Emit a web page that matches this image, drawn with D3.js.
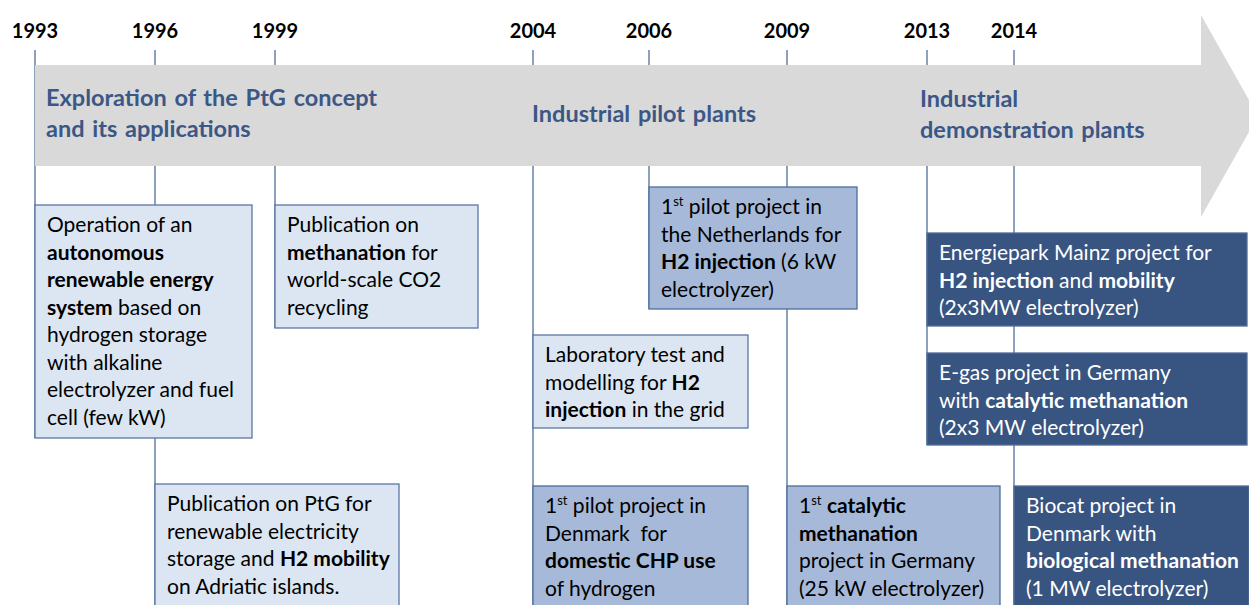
<!DOCTYPE html>
<html lang="en">
<head>
<meta charset="UTF-8">
<title>Power-to-Gas timeline</title>
<script src="https://cdn.jsdelivr.net/npm/d3@7"></script>
<style>
    body{
        margin: 0;
        background: #fff;
        font-family: Lato, "Open Sans", sans-serif;
    }
    svg{ display: block; }
    .year{ font-weight: bold; font-size: 20px; fill: #000; }
    .phase{ font-weight: bold; font-size: 23.5px; fill: #3b5786; word-spacing: 2px; }
    .tick{ stroke: #4f6d9c; stroke-width: 1.3px; }
    .box text{ font-size: 21px; }
</style>
</head>
<body>
<script>
// years on the timeline
const years = [1993, 1996, 1999, 2004, 2006, 2009, 2013, 2014];
// phases shown inside the arrow
const phases = [
    {year: 1993, lines: ["Exploration of the PtG concept", "and its applications"]},
    {year: 2004, lines: ["Industrial pilot plants"]},
    {year: 2013, lines: ["Industrial", "demonstration plants"]}
];
// events (** marks bold, ^ marks superscript)
const events = [
    {year: 1993, kind: "light", lines: ["Operation of an", "**autonomous**", "**renewable energy**", "**system** based on", "hydrogen storage", "with alkaline", "electrolyzer and fuel", "cell (few kW)"]},
    {year: 1999, kind: "light", lines: ["Publication on", "**methanation** for", "world-scale CO2", "recycling"]},
    {year: 1996, kind: "light", lines: ["Publication on PtG for", "renewable electricity", "storage and **H2 mobility**", "on Adriatic islands."]},
    {year: 2004, kind: "light", lines: ["Laboratory test and", "modelling for **H2**", "**injection** in the grid"]},
    {year: 2006, kind: "mid", lines: ["1^st^ pilot project in", "the Netherlands for", "**H2 injection** (6 kW", "electrolyzer)"]},
    {year: 2004, kind: "mid", lines: ["1^st^ pilot project in", "Denmark  for", "**domestic CHP use**", "of hydrogen"]},
    {year: 2009, kind: "mid", lines: ["1^st^ **catalytic**", "**methanation**", "project in Germany", "(25 kW electrolyzer)"]},
    {year: 2013, kind: "dark", lines: ["Energiepark Mainz project for", "**H2 injection** and **mobility**", "(2x3MW electrolyzer)"]},
    {year: 2013, kind: "dark", lines: ["E-gas project in Germany", "with **catalytic methanation**", "(2x3 MW electrolyzer)"]},
    {year: 2014, kind: "dark", lines: ["Biocat project in", "Denmark with", "**biological methanation**", "(1 MW electrolyzer)"]}
];

// layout
const width = 1249, height = 605;
const yearX = [35, 155, 275, 533, 649, 787, 927, 1014];
const boxLayout = [
    {w: 217, top: 205, h: 233},
    {w: 203, top: 205, h: 123},
    {w: 244, top: 484, h: 130},
    {w: 215, top: 335, h: 93},
    {w: 208, top: 187, h: 122},
    {w: 215, top: 486, h: 130},
    {w: 213, top: 486, h: 130},
    {w: 320, top: 233, h: 93},
    {w: 320, top: 353, h: 92},
    {w: 235, top: 486, h: 130}
];
const styles = {
    light: {fill: "#dce6f2", stroke: "#5b76a3", text: "#000"},
    mid:   {fill: "#a6b9d8", stroke: "#4f6d9c", text: "#000"},
    dark:  {fill: "#385480", stroke: "#506c98", text: "#fff"}
};
const arrow = {top: 65, bottom: 166, headX: 1201, headTop: 15, headBottom: 217, tip: 1258};

let x = d3.scaleLinear().domain(years).range(yearX);

let svg = d3.select("body").append("svg")
    .attr("width", width)
    .attr("height", height);

// tick lines, drawn under everything
let lowest = {};
events.forEach((e, i) => {
    let b = boxLayout[i];
    lowest[e.year] = Math.max(lowest[e.year] || 0, b.top + b.h);
});
svg.append("g").selectAll("line")
    .data(years)
    .join("line")
    .attr("class", "tick")
    .attr("x1", d => x(d)).attr("x2", d => x(d))
    .attr("y1", 50)
    .attr("y2", d => Math.min(lowest[d] || arrow.bottom, height));

// the arrow
let cy = (arrow.headTop + arrow.headBottom) / 2;
svg.append("path")
    .attr("fill", "#d9d9d9")
    .attr("d", d3.line()([
        [x(1993), arrow.top], [arrow.headX, arrow.top], [arrow.headX, arrow.headTop],
        [arrow.tip, cy], [arrow.headX, arrow.headBottom], [arrow.headX, arrow.bottom],
        [x(1993), arrow.bottom]
    ]) + "Z");

// year labels
svg.append("g").selectAll("text")
    .data(years)
    .join("text")
    .attr("class", "year")
    .attr("x", d => x(d))
    .attr("y", 38)
    .attr("text-anchor", "middle")
    .text(d => d);

// phase labels
const phaseOffset = [11, -1, -7];
const phaseBase = [106, 122, 107];
phases.forEach((p, i) => {
    let t = svg.append("text").attr("class", "phase");
    p.lines.forEach((l, j) => {
        t.append("tspan")
            .attr("x", x(p.year) + phaseOffset[i])
            .attr("y", phaseBase[i] + j * 31)
            .text(l);
    });
});

// split a line into plain / bold / superscript pieces
function pieces(line){
    let out = [];
    line.split("**").forEach((part, i) => {
        part.split("^").forEach((s, k) => {
            if (s.length) out.push({text: s, bold: i % 2 === 1, sup: k % 2 === 1});
        });
    });
    return out;
}

// event boxes
let boxes = svg.append("g").selectAll("g")
    .data(events)
    .join("g")
    .attr("class", "box")
    .attr("transform", (d, i) => `translate(${x(d.year)},${boxLayout[i].top})`);

boxes.append("rect")
    .attr("width", (d, i) => boxLayout[i].w)
    .attr("height", (d, i) => boxLayout[i].h)
    .attr("fill", d => styles[d.kind].fill)
    .attr("stroke", d => styles[d.kind].stroke)
    .attr("stroke-width", 1.3);

boxes.each(function(d){
    let t = d3.select(this).append("text")
        .attr("fill", styles[d.kind].text)
        .attr("xml:space", "preserve");
    d.lines.forEach((l, j) => {
        let line = t.append("tspan")
            .attr("x", 12)
            .attr("y", 27 + j * 27.5);
        let parts = pieces(l);
        parts.forEach((p, k) => {
            let s = line.append("tspan").text(p.text);
            if (p.bold) s.attr("font-weight", "bold");
            if (p.sup) s.attr("font-size", "13px").attr("dy", -8);
            else if (k > 0 && parts[k - 1].sup) s.attr("dy", 8);
        });
    });
});
</script>
</body>
</html>
